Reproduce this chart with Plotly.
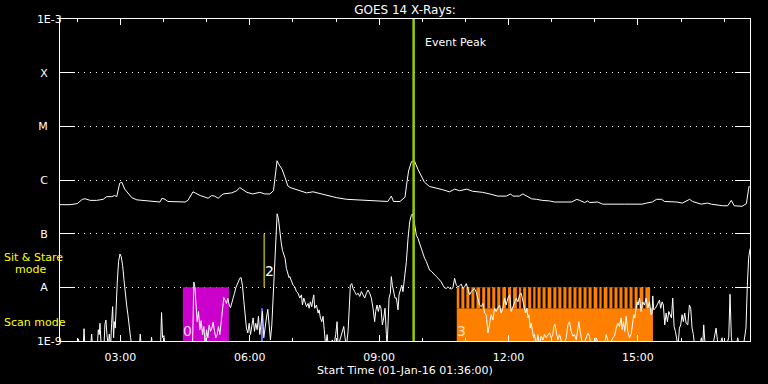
import pandas as pd
import plotly.graph_objects as go

START = pd.Timestamp("2016-01-01 01:36:00")
RANGE_MINUTES = 960

# ---- GOES long channel (1-8 A): minutes after start, log10 flux (W/m^2)
long_minutes = [0, 14, 24, 31, 35, 42, 51, 60, 65, 72, 76, 79, 83, 86, 90, 95, 100, 107, 121, 135,
                139, 142, 146, 150, 163, 174, 178, 185, 188, 195, 202, 206, 211, 215, 220, 227, 239, 246, 250, 254,
                260, 268, 278, 285, 292, 297, 300, 302, 304, 309, 313, 317, 320, 329, 343, 352, 361, 373, 385, 399,
                413, 435, 445, 456, 461, 464, 473, 480, 482, 485, 489, 493, 498, 503, 507, 514, 524, 532, 542, 549,
                556, 566, 574, 588, 598, 609, 621, 627, 630, 639, 644, 649, 656, 663, 671, 681, 688, 712, 719, 723,
                730, 734, 737, 748, 755, 785, 810, 816, 824, 830, 837, 841, 858, 866, 876, 880, 892, 901, 906, 922,
                929, 934, 938, 949, 955, 958, 959]
long_log10_flux = [-6.46, -6.46, -6.44, -6.36, -6.35, -6.38, -6.38, -6.36, -6.31, -6.31, -6.29, -6.31, -6.06, -6.04, -6.17, -6.26, -6.33, -6.37, -6.39, -6.41,
                   -6.41, -6.34, -6.36, -6.40, -6.41, -6.41, -6.38, -6.22, -6.24, -6.29, -6.32, -6.34, -6.29, -6.30, -6.34, -6.26, -6.24, -6.20, -6.14, -6.17,
                   -6.23, -6.26, -6.23, -6.26, -6.26, -6.20, -5.92, -5.64, -5.70, -5.80, -5.95, -6.11, -6.14, -6.18, -6.24, -6.22, -6.25, -6.30, -6.33, -6.36,
                   -6.37, -6.38, -6.40, -6.40, -6.30, -6.40, -6.40, -6.32, -6.11, -5.83, -5.66, -5.64, -5.80, -5.92, -6.04, -6.12, -6.15, -6.18, -6.22, -6.17,
                   -6.20, -6.17, -6.21, -6.23, -6.26, -6.30, -6.30, -6.26, -6.30, -6.30, -6.26, -6.30, -6.35, -6.36, -6.38, -6.39, -6.41, -6.41, -6.36, -6.38,
                   -6.42, -6.39, -6.42, -6.41, -6.45, -6.45, -6.45, -6.43, -6.41, -6.36, -6.36, -6.40, -6.41, -6.43, -6.36, -6.40, -6.45, -6.43, -6.45, -6.48,
                   -6.48, -6.38, -6.48, -6.49, -6.44, -6.17, -6.11]

# ---- GOES short channel (0.5-4 A): minutes after start, log10 flux (W/m^2)
short_minutes = [
    0, 23.2, 25.5, 27.8, 32.4, 33.4, 34.7, 42.6, 44.0, 45.4,
    51.9, 53.3, 54.7, 55.6, 57.4, 61.2, 62.5, 63.9, 65.3, 67.2,
    68.6, 70.4, 71.8, 73.2, 74.6, 75.5, 76.9, 77.8, 79.7, 81.5,
    83.4, 85.2, 87.1, 89.0, 90.8, 92.7, 94.5, 96.4, 98.2, 100.1,
    110.3, 111.7, 113.0, 126.0, 127.4, 128.8, 139.9, 141.3, 142.7, 144.5,
    146.4, 184.4, 185.3, 186.2, 187.6, 189.0, 190.9, 192.7, 194.6, 196.4,
    198.3, 200.1, 202.0, 203.9, 205.7, 207.6, 209.4, 211.3, 213.1, 215.0,
    216.8, 218.7, 220.5, 222.4, 224.2, 226.1, 227.9, 229.8, 231.7, 233.5,
    235.4, 237.2, 239.1, 240.9, 242.8, 244.6, 246.5, 248.3, 250.2, 252.0,
    253.9, 255.7, 257.6, 259.4, 261.3, 263.2, 265.0, 266.9, 268.7, 270.6,
    272.4, 274.3, 276.1, 278.0, 279.8, 281.7, 283.5, 285.4, 287.2, 289.1,
    291.0, 292.8, 294.7, 296.5, 298.4, 300.2, 302.1, 303.9, 305.8, 307.6,
    309.5, 311.3, 313.2, 315.0, 316.9, 318.7, 319.7, 322.0, 324.3, 326.6,
    329.0, 331.3, 333.6, 335.9, 337.3, 339.2, 340.5, 342.9, 345.2, 346.6,
    348.4, 350.3, 352.1, 353.1, 354.4, 356.8, 359.1, 360.5, 362.3, 364.2,
    366.0, 367.9, 369.7, 371.6, 373.4, 379.0, 381.0, 383.6, 385.5, 386.9,
    390.1, 392.9, 394.8, 396.6, 398.5, 400.8, 402.2, 404.0, 405.9, 407.7,
    410.0, 412.4, 414.7, 417.0, 419.3, 421.6, 423.9, 426.3, 428.6, 430.9,
    433.2, 435.5, 437.8, 439.2, 441.1, 442.9, 444.8, 446.6, 448.5, 450.4,
    452.2, 454.1, 455.0, 456.4, 457.8, 459.6, 461.0, 462.4, 464.2, 466.1,
    468.0, 470.3, 471.7, 473.5, 475.4, 477.2, 479.5, 481.9, 484.2, 486.5,
    488.8, 490.2, 492.0, 493.9, 495.8, 498.1, 500.4, 502.7, 505.0, 507.3,
    509.7, 512.0, 514.3, 516.6, 518.9, 521.2, 523.6, 525.9, 528.2, 530.5,
    532.8, 535.1, 537.5, 539.8, 542.1, 544.4, 546.7, 549.0, 551.4, 553.7,
    556.0, 558.3, 560.6, 562.9, 565.3, 567.6, 569.9, 572.2, 574.5, 576.8,
    579.1, 581.5, 583.8, 586.1, 588.4, 590.7, 593.0, 595.4, 597.7, 600.0,
    602.3, 604.6, 606.9, 609.3, 611.6, 613.9, 616.2, 618.5, 620.8, 623.2,
    625.5, 627.8, 630.1, 632.4, 634.7, 637.1, 639.4, 641.7, 643.1, 645.0,
    646.4, 647.7, 649.6, 651.0, 652.4, 654.2, 655.6, 657.0, 658.9, 660.2,
    662.6, 664.9, 667.2, 669.5, 671.8, 674.1, 676.5, 678.8, 681.1, 683.4,
    685.7, 687.1, 688.5, 690.4, 692.7, 695.0, 699.6, 704.3, 706.6, 708.9,
    711.2, 713.5, 715.8, 718.2, 720.5, 721.9, 723.7, 725.1, 727.4, 732.1,
    734.4, 736.7, 739.0, 743.6, 746.0, 750.6, 757.5, 759.9, 762.2, 764.5,
    769.1, 771.4, 773.8, 776.1, 778.4, 780.7, 782.1, 784.0, 785.8, 787.7,
    790.0, 792.3, 794.6, 796.9, 798.3, 799.7, 801.6, 802.9, 804.3, 806.2,
    808.5, 810.8, 813.1, 815.5, 817.8, 820.1, 822.4, 823.8, 824.7, 826.1,
    828.4, 830.3, 832.1, 834.0, 835.8, 837.7, 839.5, 841.4, 843.3, 845.1,
    847.0, 848.8, 850.7, 852.5, 854.4, 856.2, 858.1, 859.9, 861.8, 863.6,
    865.5, 867.3, 869.2, 871.1, 873.4, 875.7, 877.5, 879.4, 881.2, 883.1,
    889.6, 892.4, 894.2, 895.6, 897.0, 898.8, 908.1, 910.9, 912.8, 914.6,
    917.4, 921.1, 922.9, 926.6, 930.4, 932.2, 934.1, 935.9, 940.5, 942.9,
    945.2, 950.7, 952.6, 954.4, 956.3, 958.1, 960.0]
short_log10_flux = [
    -9.1, -9.1, -8.96, -9.1, -9.1, -8.77, -9.1, -9.1, -8.87, -9.1,
    -9.1, -8.79, -8.88, -8.67, -9.1, -9.1, -8.69, -8.61, -8.88, -9.1,
    -8.87, -9.1, -8.67, -8.36, -8.94, -8.64, -8.76, -8.39, -7.90, -7.52,
    -7.38, -7.43, -7.59, -7.86, -8.14, -8.33, -8.51, -8.79, -8.94, -9.1,
    -9.1, -8.87, -9.1, -9.1, -8.93, -9.1, -9.1, -8.47, -8.94, -8.90,
    -9.1, -9.1, -8.02, -7.90, -7.99, -8.33, -8.64, -8.45, -8.79, -8.62,
    -8.88, -8.73, -9.1, -8.79, -8.94, -8.70, -8.82, -8.76, -8.65, -8.82,
    -8.94, -8.88, -8.73, -8.88, -8.61, -8.39, -8.19, -8.24, -8.30, -8.20,
    -8.33, -8.38, -8.30, -8.20, -8.11, -8.01, -7.94, -7.86, -7.83, -7.82,
    -7.97, -8.24, -8.54, -8.76, -8.85, -8.67, -8.88, -8.73, -8.57, -8.82,
    -8.67, -8.79, -8.54, -8.88, -8.64, -8.45, -8.94, -8.70, -8.57, -8.41,
    -8.79, -8.98, -8.70, -8.20, -7.52, -6.91, -6.63, -6.72, -6.97, -7.15,
    -7.31, -7.40, -7.46, -7.65, -7.77, -7.82, -7.80, -7.90, -7.96, -7.99,
    -8.08, -8.11, -8.20, -8.14, -8.33, -8.20, -8.27, -8.36, -8.30, -8.39,
    -8.27, -8.36, -8.20, -8.14, -8.39, -8.33, -8.48, -8.42, -8.57, -8.64,
    -8.54, -8.82, -9.1, -8.88, -9.1, -8.98, -9.1, -8.88, -8.64, -9.1,
    -8.94, -8.82, -8.73, -8.94, -9.1, -8.82, -8.33, -7.96, -7.93, -8.02,
    -8.08, -8.14, -8.11, -8.17, -8.08, -8.14, -8.20, -8.11, -8.05, -8.11,
    -8.20, -8.39, -8.64, -8.45, -8.33, -8.45, -8.33, -8.39, -8.70, -8.57,
    -8.39, -8.88, -9.1, -8.70, -8.20, -8.11, -7.80, -7.96, -8.08, -8.20,
    -8.20, -8.42, -8.14, -8.02, -7.96, -8.08, -7.83, -7.52, -7.09, -6.78,
    -6.66, -6.63, -6.72, -6.85, -7.03, -7.09, -7.19, -7.28, -7.40, -7.46,
    -7.52, -7.62, -7.68, -7.70, -7.74, -7.77, -7.80, -7.83, -7.86, -7.90,
    -7.96, -8.01, -8.02, -7.99, -8.02, -8.03, -8.01, -7.83, -7.96, -7.99,
    -7.97, -7.94, -8.02, -7.99, -7.93, -8.02, -8.14, -8.08, -8.05, -8.02,
    -8.09, -8.20, -8.33, -8.36, -8.30, -8.48, -8.51, -8.85, -8.70, -8.51,
    -8.61, -8.39, -8.45, -8.39, -8.33, -8.48, -8.39, -8.20, -8.33, -8.20,
    -8.14, -8.45, -8.36, -8.27, -8.20, -8.27, -8.14, -8.11, -8.20, -8.33,
    -8.39, -8.48, -8.39, -8.57, -8.51, -8.76, -8.67, -8.82, -8.94, -8.88,
    -9.1, -8.88, -9.1, -8.91, -8.98, -8.88, -8.94, -8.88, -8.85, -8.94,
    -8.88, -8.73, -8.69, -8.82, -8.98, -8.88, -9.1, -8.94, -8.70, -8.64,
    -8.82, -8.91, -8.88, -8.98, -8.70, -8.64, -8.82, -8.94, -9.1, -8.94,
    -8.85, -8.91, -9.1, -9.1, -8.94, -9.1, -9.1, -8.88, -8.98, -9.1,
    -8.94, -8.91, -8.76, -8.67, -8.73, -8.57, -8.79, -8.64, -8.82, -8.54,
    -8.82, -8.94, -8.88, -8.70, -8.51, -8.57, -8.39, -8.27, -8.33, -8.20,
    -8.45, -8.27, -8.33, -8.20, -8.39, -8.27, -8.51, -8.48, -8.16, -8.42,
    -8.39, -8.33, -8.27, -8.24, -8.39, -8.27, -8.33, -8.70, -8.48, -8.64,
    -8.45, -8.51, -8.57, -8.20, -8.73, -8.82, -8.94, -9.1, -8.76, -8.70,
    -8.51, -8.64, -8.48, -8.67, -8.70, -8.33, -8.39, -8.76, -8.88, -9.1,
    -9.1, -8.94, -9.1, -8.70, -8.98, -9.1, -9.1, -8.88, -8.76, -8.98,
    -9.1, -8.94, -9.1, -9.1, -8.94, -8.13, -8.94, -9.1, -9.1, -8.94,
    -9.1, -9.1, -8.94, -8.76, -7.96, -7.46, -7.28]

# ---- Axis ticks
flux_tick_vals = [1e-9, 1e-8, 1e-7, 1e-6, 1e-5, 1e-4, 1e-3]
flux_tick_text = ["1E-9", "A", "B", "C", "M", "X", "1E-3"]
time_tick_labels = ["03:00", "06:00", "09:00", "12:00", "15:00"]

# ---- Observation windows (minutes after start)
obs0_window_min = [171, 235]
obs2_time_min = 284
obs2_flux_span = [1e-8, 1e-7]
blue_window_min = [279.7, 282.4]
obs3_window_min = [552, 825]
obs3_bars_end_min = 821
scan3_gap_min = [557, 564, 571, 578, 586, 593, 600, 607, 614, 622, 629, 637, 643, 650, 657, 663, 670,
                 677, 685, 692, 699, 706, 713, 720, 727, 734, 741, 749, 755, 763, 770, 777, 784, 791,
                 798, 805, 813]
scan_gap_width_min = 2.8
event_peak_min = 492
mode_split_flux = 10 ** -8.39


def t(m):
    return (START + pd.Timedelta(minutes=m)).strftime("%Y-%m-%d %H:%M:%S")


FONT = "DejaVu Sans"
fig = go.Figure()

fig.add_trace(go.Scatter(x=[t(m) for m in long_minutes], y=[10 ** v for v in long_log10_flux],
                         mode="lines", line=dict(color="white", width=1), showlegend=False))
fig.add_trace(go.Scatter(x=[t(m) for m in short_minutes], y=[10 ** v for v in short_log10_flux],
                         mode="lines", line=dict(color="white", width=1), showlegend=False))

shapes = []
shapes.append(dict(type="rect", xref="x", yref="y", x0=t(obs0_window_min[0]), x1=t(obs0_window_min[1]),
                   y0=1e-9, y1=1e-8, fillcolor="#cc00cc", line_width=0, layer="between"))
shapes.append(dict(type="rect", xref="x", yref="y", x0=t(obs3_window_min[0]), x1=t(obs3_window_min[1]),
                   y0=1e-9, y1=mode_split_flux, fillcolor="#ff8000", line_width=0, layer="between"))
shapes.append(dict(type="rect", xref="x", yref="y", x0=t(obs3_window_min[0]), x1=t(obs3_bars_end_min),
                   y0=mode_split_flux, y1=1e-8, fillcolor="#ff8000", line_width=0, layer="between"))
for g in scan3_gap_min:
    shapes.append(dict(type="rect", xref="x", yref="y", x0=t(g - scan_gap_width_min / 2),
                       x1=t(g + scan_gap_width_min / 2), y0=mode_split_flux, y1=1e-8,
                       fillcolor="black", line_width=0, layer="between"))
shapes.append(dict(type="rect", xref="x", yref="y", x0=t(blue_window_min[0]), x1=t(blue_window_min[1]),
                   y0=1e-9, y1=mode_split_flux, fillcolor="#6a6aff", line_width=0, layer="between"))
shapes.append(dict(type="line", xref="x", yref="y", x0=t(obs2_time_min), x1=t(obs2_time_min),
                   y0=obs2_flux_span[0], y1=obs2_flux_span[1], line=dict(color="#ffff00", width=1)))
shapes.append(dict(type="line", xref="x", yref="paper", x0=t(event_peak_min), x1=t(event_peak_min),
                   y0=0, y1=1, line=dict(color="#9acd00", width=2.5), layer="above"))

annotations = [
    dict(text="Event Peak", xref="x", yref="paper", x=t(505), y=0.926, xanchor="left", yanchor="middle",
         showarrow=False, font=dict(color="white", size=11, family=FONT)),
    dict(text="0", xref="x", yref="paper", x=t(178), y=0.031, xanchor="center", yanchor="middle",
         showarrow=False, font=dict(color="#ffd0ff", size=14, family=FONT)),
    dict(text="2", xref="x", yref="paper", x=t(291), y=0.2176, xanchor="center", yanchor="middle",
         showarrow=False, font=dict(color="white", size=14, family=FONT)),
    dict(text="3", xref="x", yref="paper", x=t(559), y=0.031, xanchor="center", yanchor="middle",
         showarrow=False, font=dict(color="#ffe0c0", size=14, family=FONT)),
    dict(text="Sit & Stare", xref="paper", yref="paper", x=-0.084, y=0.259, xanchor="left", yanchor="middle",
         showarrow=False, font=dict(color="#ffff00", size=11, family=FONT)),
    dict(text="mode", xref="paper", yref="paper", x=-0.068, y=0.222, xanchor="left", yanchor="middle",
         showarrow=False, font=dict(color="#ffff00", size=11, family=FONT)),
    dict(text="Scan mode", xref="paper", yref="paper", x=-0.084, y=0.0586, xanchor="left", yanchor="middle",
         showarrow=False, font=dict(color="#ffff00", size=11, family=FONT)),
]

pad = "\u00a0\u00a0\u00a0\u00a0"
fig.update_layout(
    width=768, height=384,
    margin=dict(l=60, r=18, t=19, b=41, pad=0),
    paper_bgcolor="black", plot_bgcolor="black",
    font=dict(family=FONT, color="white", size=11),
    title=dict(text="GOES 14 X-Rays:", x=0.5, xref="paper", y=1 - 9.5 / 384, yref="container",
               xanchor="center", yanchor="middle", font=dict(size=12, color="white", family=FONT)),
    shapes=shapes, annotations=annotations, showlegend=False,
    xaxis=dict(
        type="date", range=[t(0), t(RANGE_MINUTES)],
        tickvals=[f"2016-01-01 {s}:00" for s in time_tick_labels], ticktext=time_tick_labels,
        ticks="inside", ticklen=6, tickcolor="white", tickwidth=1,
        minor=dict(dtick=3600000, tick0="2016-01-01 00:00:00", ticks="inside", ticklen=3,
                   tickcolor="white", tickwidth=1, showgrid=False),
        showline=True, linecolor="white", linewidth=1, mirror="ticks",
        showgrid=False, zeroline=False, ticklabelstandoff=6,
        tickfont=dict(size=11, color="white", family=FONT),
        title=dict(text="Start Time (01-Jan-16 01:36:00)", standoff=0,
                   font=dict(size=11, color="white", family=FONT)),
    ),
    yaxis=dict(
        type="log", range=[-9, -3],
        tickvals=flux_tick_vals,
        ticktext=[s if s.startswith("1E") else s + pad for s in flux_tick_text],
        ticks="inside", ticklen=15, tickcolor="white", tickwidth=1,
        showline=True, linecolor="white", linewidth=1, mirror="ticks",
        showgrid=True, gridcolor="white", gridwidth=1, griddash="1px,5px",
        zeroline=False, ticklabelstandoff=-5,
        tickfont=dict(size=11, color="white", family=FONT),
    ),
)

fig.write_html(
    "out.html",
    config={"displayModeBar": False, "staticPlot": True},
    post_script="document.body.style.margin='0';document.body.style.padding='0';"
                "document.body.style.background='black';",
)
